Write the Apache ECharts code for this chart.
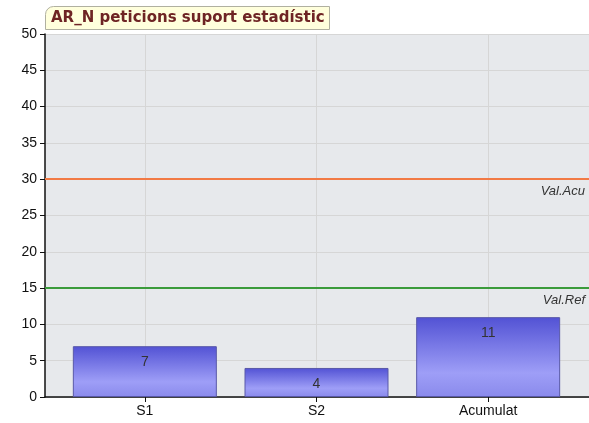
<!DOCTYPE html>
<html>
<head>
<meta charset="utf-8">
<script src="https://cdn.jsdelivr.net/npm/echarts@6/dist/echarts.min.js"></script>
<style>html,body{margin:0;padding:0;background:#fff;}#c{width:589px;height:423px;}</style>
</head>
<body>
<div id="c"></div>
<script>
var titleText = 'AR_N peticions suport estadístic';
var categories = ['S1', 'S2', 'Acumulat'];
var values = [7, 4, 11];
var refNames = ['Val.Acu', 'Val.Ref'];
var refValues = [30, 15];
var refColors = ['#f27a45', '#3b9b3b'];
var yMin = 0, yMax = 50, yStep = 5;

var chart = echarts.init(document.getElementById('c'), null, {renderer: 'canvas'});
var gridTop = 34, gridBottom = 26;
var option = {
  animation: false,
  title: {
    text: titleText, left: 45, top: 6,
    padding: [5, 5, 4, 6],
    backgroundColor: '#ffffdc', borderColor: '#b0b0a0', borderWidth: 1,
    borderRadius: [8, 0, 0, 0],
    textStyle: {fontFamily: 'DejaVu Sans', fontWeight: 'bold', fontSize: 15, color: '#6e2424'}
  },
  grid: [
    {left: 45, right: 0, top: gridTop, bottom: gridBottom, show: true, backgroundColor: '#e7e9ec', borderWidth: 0},
    {left: 59, right: 15, top: gridTop, bottom: gridBottom, show: false}
  ],
  xAxis: [
    {type: 'value', gridIndex: 0, min: 0, max: 1, axisLabel: {show: false}, axisTick: {show: false}, splitLine: {show: false},
     axisLine: {show: true, lineStyle: {color: '#111', width: 1.5}}},
    {type: 'category', gridIndex: 1, data: categories, axisLine: {show: false},
     axisTick: {show: true, alignWithLabel: true, length: 5, lineStyle: {color: '#111'}},
     axisLabel: {color: '#111', fontFamily: 'Liberation Sans', fontSize: 14, margin: 7},
     splitLine: {show: false}}
  ],
  yAxis: [
    {type: 'value', gridIndex: 0, min: yMin, max: yMax, interval: yStep,
     axisLine: {show: true, lineStyle: {color: '#111', width: 1.5}},
     axisTick: {show: true, length: 5, lineStyle: {color: '#111'}},
     axisLabel: {color: '#111', fontFamily: 'Liberation Sans', fontSize: 14, margin: 8},
     splitLine: {show: true, lineStyle: {color: '#d6d6d6', width: 1}}},
    {type: 'value', gridIndex: 1, min: yMin, max: yMax, interval: yStep, show: false}
  ],
  series: [
    {
      type: 'line', xAxisIndex: 0, yAxisIndex: 0, data: [], silent: true,
      markLine: {
        silent: true, symbol: 'none', z: 3,
        data: refValues.map(function (v, i) {
          return {yAxis: v, name: refNames[i], lineStyle: {color: refColors[i], width: 2, type: 'solid'}};
        }),
        label: {show: true, position: 'insideEndBottom', formatter: '{b}', color: '#333',
                fontStyle: 'italic', fontFamily: 'Liberation Sans', fontSize: 13, distance: [4, 6]}
      }
    },
    {
      type: 'bar', xAxisIndex: 1, yAxisIndex: 1, data: values, barWidth: 144, z: 4,
      itemStyle: {
        color: {type: 'linear', x: 0, y: 0, x2: 0, y2: 1,
                colorStops: [{offset: 0, color: '#5252d4'}, {offset: 0.7, color: '#9e9ef7'}, {offset: 1, color: '#8a8aec'}]},
        borderColor: '#5858a8', borderWidth: 1
      },
      label: {show: true, position: 'insideTop', distance: 9, color: '#333', fontFamily: 'Liberation Sans', fontSize: 14},
      markLine: {
        silent: true, symbol: 'none', z: 1,
        label: {show: false},
        lineStyle: {color: '#d6d6d6', width: 1, type: 'solid'},
        data: categories.map(function (c) { return {xAxis: c}; })
      }
    }
  ]
};
chart.setOption(option);
</script>
</body>
</html>
